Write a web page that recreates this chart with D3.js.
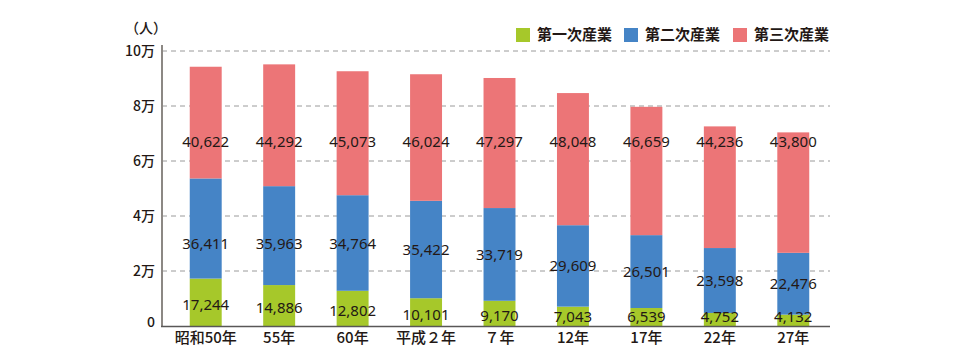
<!DOCTYPE html>
<html><head><meta charset="utf-8">
<script src="https://cdn.jsdelivr.net/npm/d3@7"></script>
<style>
html,body{margin:0;padding:0;background:#fff;}
svg text{font-family:"Noto Sans CJK JP","Noto Sans",sans-serif;fill:#231815;}
</style></head>
<body><svg id="c" width="960" height="360"></svg>
<script>
const categories = ["昭和50年","55年","60年","平成２年","７年","12年","17年","22年","27年"];
const primary   = [17244,14886,12802,10101,9170,7043,6539,4752,4132];
const secondary = [36411,35963,34764,35422,33719,29609,26501,23598,22476];
const tertiary  = [40622,44292,45073,46024,47297,48048,46659,44236,43800];
const seriesNames = ["第一次産業","第二次産業","第三次産業"];
const seriesColors = ["#a6c82a","#4584c6","#ec7577"];
const yTicks = [0,20000,40000,60000,80000,100000];
const yTickLabels = ["0","2万","4万","6万","8万","10万"];

const svg = d3.select("#c");
const x = d3.scaleBand().domain(categories).range([169,830]).paddingInner(0.565).paddingOuter(0.2825);
const y = d3.scaleLinear().domain([0,100000]).range([326,51]);

const rows = categories.map((c,i)=>({cat:c, p:primary[i], s:secondary[i], t:tertiary[i]}));
const stack = d3.stack().keys(["p","s","t"])(rows);

// gridlines
svg.append("g").selectAll("line").data(yTicks.filter(d=>d>0)).join("line")
  .attr("x1",162).attr("x2",830).attr("y1",d=>y(d)).attr("y2",d=>y(d))
  .attr("stroke","#9a9a9a").attr("stroke-width",1).attr("stroke-dasharray","5,4");

// bars
stack.forEach((layer,k)=>{
  svg.append("g").selectAll("rect").data(layer).join("rect")
    .attr("x",d=>x(d.data.cat)).attr("width",x.bandwidth())
    .attr("y",d=>y(d[1])).attr("height",d=>y(d[0])-y(d[1]))
    .attr("fill",seriesColors[k]);
});

// axes
const yAxis = d3.axisLeft(y).tickValues(yTicks).tickFormat((d,i)=>yTickLabels[i]).tickSize(0).tickPadding(7);
const gy = svg.append("g").attr("transform","translate(162,0)").call(yAxis);
gy.select(".domain").remove();
gy.selectAll("text").attr("font-size",14).attr("font-weight",500)
  .attr("dy",d=>d===0?"0.05em":"0.32em")
  .style("font-family",'"Noto Sans CJK JP","Noto Sans",sans-serif');
svg.append("line").attr("x1",162).attr("x2",162).attr("y1",45).attr("y2",327)
  .attr("stroke","#8c8884").attr("stroke-width",2);

const xAxis = d3.axisBottom(x).tickSize(0).tickPadding(6);
const gx = svg.append("g").attr("transform","translate(0,326)").call(xAxis);
gx.select(".domain").remove();
gx.selectAll("text").attr("font-size",15).attr("font-weight",500).style("font-family",'"Noto Sans CJK JP","Noto Sans",sans-serif');
svg.append("line").attr("x1",161).attr("x2",830).attr("y1",326.5).attr("y2",326.5)
  .attr("stroke","#595757").attr("stroke-width",1.5);

svg.append("text").attr("x",146).attr("y",33).attr("text-anchor","middle")
  .attr("font-size",14).attr("font-weight",500).text("（人）");

// value labels
const fmt = d3.format(",");
const lab = svg.append("g").attr("font-size",15).attr("text-anchor","middle");
stack.forEach((layer,k)=>{
  lab.selectAll(null).data(layer).join("text")
    .attr("x",d=>x(d.data.cat)+x.bandwidth()/2)
    .attr("y",d=>{
      const c = (y(d[0])+y(d[1]))/2;
      let yy;
      if(k===0) yy = Math.min(c+2, y(3300));
      else if(k===1) yy = Math.max(c, y(30000));
      else yy = y(67000);
      return yy;
    })
    .attr("dy","0.36em")
    .style("font-family",'"Noto Sans","Noto Sans CJK JP",sans-serif')
    .text(d=>fmt(d[1]-d[0]));
});

// legend
const lg = svg.append("g");
const lx = [516,624,733];
seriesNames.forEach((n,i)=>{
  lg.append("rect").attr("x",lx[i]).attr("y",28).attr("width",14).attr("height",14).attr("fill",seriesColors[i]);
  lg.append("text").attr("x",lx[i]+21).attr("y",35).attr("dy","0.36em")
    .attr("font-size",15).attr("font-weight",700).text(n);
});
</script></body></html>
